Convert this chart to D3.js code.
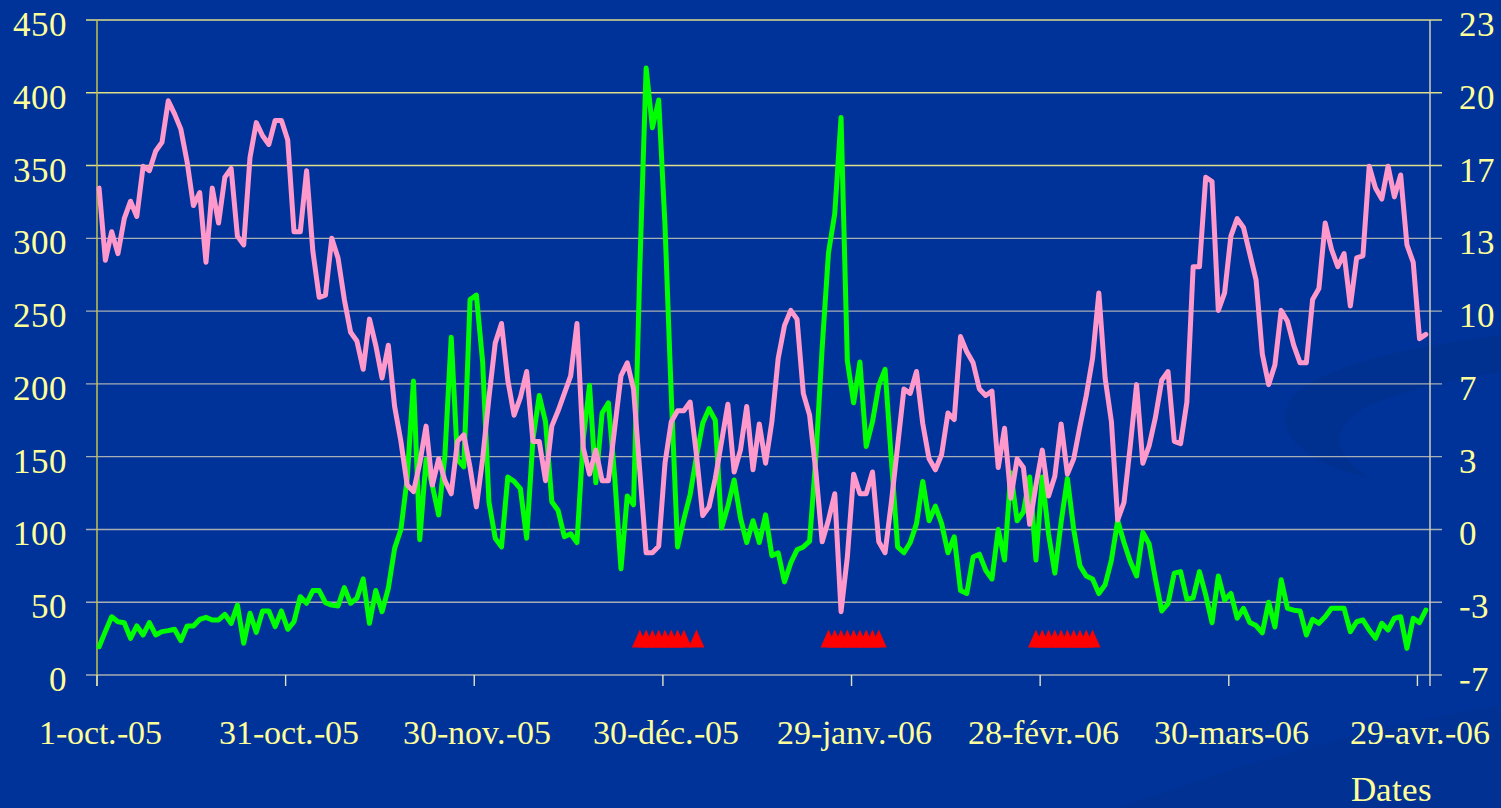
<!DOCTYPE html>
<html><head><meta charset="utf-8">
<script src="https://cdn.jsdelivr.net/npm/d3@7"></script>
<style>
@font-face { font-family: "ChartSerif"; src: local("Liberation Serif"), local("LiberationSerif"), local("Liberation Serif Regular"); }
svg text { font-family: "ChartSerif", "Liberation Serif", "Times New Roman", serif; }
</style>
</head><body style="margin:0;background:#003399">
<svg id="c" width="1501" height="808" font-family="Liberation Serif, serif"></svg>
<script>
// ---------- data ----------
const startDate = "2005-10-01";
const endDate = "2006-05-01";
// green series (left axis), one value per day from 1 Oct 2005 to 30 Apr 2006
const greenValues = [19.4,30,40,36.6,35.9,25.2,33.7,27.5,36,27.5,29.8,30.5,31.4,23.6,33.7,33.7,38.2,39.6,37.8,37.8,41.7,35.5,48,21.8,42.4,29.3,44,44,33.2,44,31.4,36.6,53.8,49.3,58,58,49.7,48,47.4,60,49.3,52.7,66,35.5,58,43.5,59.6,
87,100,135,202,93,148,130,110,151,232,148,143,258,261,215,119,94,88,136,133,128,94,162,192,
174,119,113,95,97,91,162,199,132,180,187,136,73,123,117,280,417,376,395,309,192,88,107,124,150,173,183,175,101,116,134,108,91,106,91,110,
82,84,64,77,86,88,92,150,225,290,317,383,216,187,215,157,174,199,210,148,88,84,91,104,133,106,116,104,84,95,58,56,81,83,72,
66,100,79,139,106,112,136,79,136,97,70,105,135,100,75,68,66,56,62,79,106,91,78,68,98,90,66,44,49,70,71,52,53,71,55,36,
68,51.5,56,39,45.8,36,34,29,50,33,65.5,45.8,44.5,44,27.5,38.3,35.5,40,45.8,45.8,45.8,29.8,36.6,37.8,30.9,25.2,35.5,30.9,39,40,18.3,39,36,44.6];
// pink series (right axis)
const pinkValues = [15.3,12.0,13.3,12.3,13.9,14.7,14.0,16.3,16.1,17.0,17.4,19.3,18.7,18.0,16.5,14.5,15.1,11.9,15.3,13.7,15.8,16.2,13.1,12.7,16.7,18.3,17.7,17.3,18.4,18.4,17.5,13.3,13.3,16.1,12.4,10.3,
10.4,13.0,12.1,10.2,8.7,8.3,7.0,9.3,8.1,6.6,8.1,
5.3,3.7,1.7,1.4,2.7,4.4,1.7,2.9,1.9,1.3,3.7,4.0,2.5,0.7,
2.9,5.7,8.2,9.1,6.5,4.9,5.7,6.9,3.7,3.7,1.9,
4.4,5.1,5.9,6.7,9.1,3.4,2.2,3.3,1.9,1.9,4.3,6.7,7.3,6.1,2.3,-1.4,-1.4,-1.1,2.7,4.6,5.1,5.1,5.5,3.1,0.3,0.7,2.0,3.7,5.4,2.3,3.3,5.3,2.4,4.5,2.7,
4.6,7.5,9.0,9.7,9.3,5.9,4.9,2.3,-0.9,0.1,1.3,-4.1,-1.6,2.2,1.3,1.3,2.3,-0.9,-1.4,0.9,3.5,6.1,5.9,6.9,4.5,2.9,2.4,3.1,5.0,4.7,8.5,7.8,7.3,6.1,5.8,
6.0,2.5,4.3,1.1,2.9,2.5,-0.1,1.7,3.3,1.2,2.1,4.5,2.2,2.9,4.4,5.8,7.5,10.5,6.6,4.6,0.1,0.9,3.5,6.3,2.7,3.5,4.8,6.5,6.9,3.7,3.6,5.5,11.7,11.7,15.8,15.6,
9.7,10.5,13.1,13.9,13.5,12.3,11.1,7.7,6.3,7.2,9.7,9.2,8.1,7.3,7.3,10.2,10.7,13.7,12.5,11.7,12.3,9.9,12.1,12.2,16.3,15.3,14.8,16.3,14.9,15.9,12.7,11.9,8.4,8.6];
// red triangle markers (left axis value)
const markerDates = ["2005-12-26","2005-12-27","2005-12-28","2005-12-29","2005-12-30","2005-12-31","2006-01-01","2006-01-02","2006-01-04",
  "2006-01-25","2006-01-26","2006-01-27","2006-01-28","2006-01-29","2006-01-30","2006-01-31","2006-02-01","2006-02-02",
  "2006-02-27","2006-02-28","2006-03-01","2006-03-02","2006-03-03","2006-03-04","2006-03-05","2006-03-06","2006-03-07","2006-03-08"];
const markerValue = 25;
const leftTicks = [0,50,100,150,200,250,300,350,400,450];
const rightTickLabels = ["-7","-3","0","3","7","10","13","17","20","23"];
const xTickDates = ["2005-10-01","2005-10-31","2005-11-30","2005-12-30","2006-01-29","2006-02-28","2006-03-30","2006-04-29"];
const xTickLabels = ["1-oct.-05","31-oct.-05","30-nov.-05","30-d\u00e9c.-05","29-janv.-06","28-f\u00e9vr.-06","30-mars-06","29-avr.-06"];
const xTitle = "Dates";

// ---------- layout ----------
const svg = d3.select("#c");
const L = 97, R = 1430, T = 20, B = 675;
const parse = d3.utcParse("%Y-%m-%d");
const x = d3.scaleUtc().domain([parse(startDate), parse(endDate)]).range([L, R]);
const yL = d3.scaleLinear().domain([0, 450]).range([B, T]);
const yR = d3.scaleLinear().domain([-7, 23]).range([B, T]);
const days = d3.utcDay.range(parse(startDate), parse(endDate));
const px = d => x(d3.utcHour.offset(d, 8));
const textCol = "#ffff99";
const FF = '"ChartSerif", "Liberation Serif", "Times New Roman", serif';

// background
svg.append("rect").attr("width", 1501).attr("height", 808).attr("fill", "#003399");
svg.append("path").attr("fill", "#003191")
  .attr("d", "M1501,335 C1420,345 1315,365 1290,400 C1272,430 1300,462 1370,478 C1330,455 1330,425 1370,405 C1410,388 1460,378 1501,372 Z");
svg.append("path").attr("fill", "#003193")
  .attr("d", "M1120,808 C1250,760 1380,725 1501,705 L1501,808 Z");

// gridlines (with tick extensions)
svg.append("g").selectAll("line").data(leftTicks).join("line")
  .attr("x1", L - 11).attr("x2", R + 12)
  .attr("y1", d => yL(d)).attr("y2", d => yL(d))
  .attr("stroke", d => d >= 350 ? "#dede8c" : "#a7aeb4").attr("stroke-width", 1.4);

// axis lines
svg.append("line").attr("x1", L).attr("x2", L).attr("y1", T).attr("y2", B + 11)
  .attr("stroke", "#c4c44c").attr("stroke-width", 1.5);
svg.append("line").attr("x1", R).attr("x2", R).attr("y1", T).attr("y2", B + 11)
  .attr("stroke", "#cfcfb4").attr("stroke-width", 1.5);

// x axis ticks
const xTicks = xTickDates.map(parse);
svg.append("g").selectAll("line").data(xTicks).join("line")
  .attr("x1", d => x(d)).attr("x2", d => x(d)).attr("y1", B).attr("y2", B + 11)
  .attr("stroke", "#e2e2c4").attr("stroke-width", 1.4);

// labels
const labels = svg.append("g").attr("font-family", "Liberation Serif, serif");
labels.append("g").selectAll("text").data(leftTicks).join("text")
  .attr("x", 67).attr("y", d => yL(d) + 16).attr("text-anchor", "end")
  .attr("font-family", "Liberation Serif, serif")
  .attr("fill", textCol).style("font-family", FF).style("font-size", "35px").text(d => String(d));
const rTickVals = rightTickLabels.map((_, i) => -7 + i * 30 / 9);
labels.append("g").selectAll("text").data(rightTickLabels).join("text")
  .attr("x", 1459).attr("y", (d, i) => yR(rTickVals[i]) + 16).attr("text-anchor", "start")
  .attr("font-family", "Liberation Serif, serif")
  .attr("fill", textCol).style("font-family", FF).style("font-size", "35px").text(d => d);
labels.append("g").selectAll("text").data(xTicks).join("text")
  .attr("x", d => x(d) + 3).attr("y", 744).attr("text-anchor", "middle")
  .attr("font-family", "Liberation Serif, serif")
  .attr("fill", textCol).style("font-family", FF).style("font-size", "34px")
  .text((d, i) => xTickLabels[i]);
labels.append("text").attr("x", 1432).attr("y", 801).attr("text-anchor", "end")
  .attr("font-family", "Liberation Serif, serif")
  .attr("fill", textCol).style("font-family", FF).style("font-size", "35px").text(xTitle);

// lines
const greenLine = d3.line().x((d, i) => px(days[i])).y(d => yL(d));
const pinkLine = d3.line().x((d, i) => px(days[i])).y(d => yR(d));
svg.append("path").datum(greenValues).attr("d", greenLine)
  .attr("fill", "none").attr("stroke", "#00ff00").attr("stroke-width", 5)
  .attr("stroke-linejoin", "round").attr("stroke-linecap", "round");
svg.append("path").datum(pinkValues).attr("d", pinkLine)
  .attr("fill", "none").attr("stroke", "#ff99cc").attr("stroke-width", 5)
  .attr("stroke-linejoin", "round").attr("stroke-linecap", "round");

// red triangles
svg.append("g").selectAll("path").data(markerDates.map(parse)).join("path")
  .attr("transform", d => `translate(${px(d)},${yL(markerValue)})`)
  .attr("d", "M0,-9L8,9L-8,9Z").attr("fill", "#ff0000");
</script>
</body></html>
